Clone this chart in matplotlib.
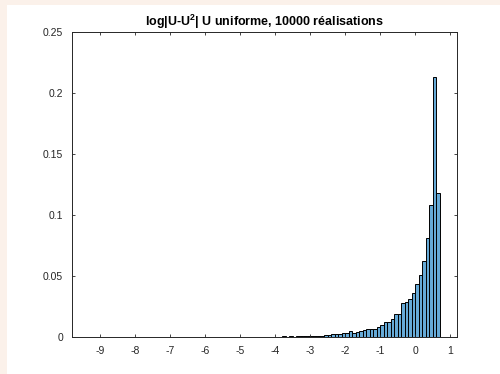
import numpy as np
import matplotlib
matplotlib.use("Agg")
import matplotlib.pyplot as plt
from matplotlib.patches import Rectangle

# histogramme (normalisation 'probability'), pas de 0.1
bin_start = -3.9
bin_width = 0.1
prob = [
    0.0002, 0.0004, 0.0003, 0.0004, 0.0002,
    0.0005, 0.0005, 0.0006, 0.0006, 0.0006,
    0.0007, 0.0009, 0.0010, 0.0014, 0.0016,
    0.0022, 0.0027, 0.0022, 0.0036, 0.0036,
    0.0049, 0.0036, 0.0044, 0.0049, 0.0060,
    0.0066, 0.0066, 0.0066, 0.0082, 0.0096,
    0.0126, 0.0126, 0.0150, 0.0191, 0.0191,
    0.0279, 0.0284, 0.0314, 0.0363, 0.0437,
    0.0511, 0.0623, 0.0811, 0.108, 0.213, 0.118,
]

xticks = [-9, -8, -7, -6, -5, -4, -3, -2, -1, 0, 1]
yticks = [0, 0.05, 0.1, 0.15, 0.2, 0.25]
ytick_labels = ["0", "0.05", "0.1", "0.15", "0.2", "0.25"]
title = r"log|U-U$^{\mathbf{2}}$| U uniforme, 10000 réalisations"

plt.rcParams['font.family'] = ['Liberation Sans', 'DejaVu Sans']
plt.rcParams['mathtext.fontset'] = 'custom'
plt.rcParams['mathtext.rm'] = 'Liberation Sans'
plt.rcParams['mathtext.bf'] = 'Liberation Sans:bold'

fig = plt.figure(figsize=(5.0, 3.74), dpi=100)
fig.patch.set_facecolor('#fbf1ea')
# zone blanche de la figure matlab (decalee dans la capture)
fig.patches.append(Rectangle((7 / 500, 0), 1, 1 - 5 / 374, transform=fig.transFigure,
                             facecolor='white', edgecolor='none', zorder=-10))

ax = fig.add_axes([0.144, 0.099, 0.77, 0.8155])
ax.set_facecolor('white')
lefts = [bin_start + i * bin_width for i in range(len(prob))]
ax.bar(lefts, prob, width=bin_width, align='edge',
       color=(0.4, 0.668, 0.845), edgecolor='black', linewidth=0.7)

ax.set_xlim(-9.8, 1.2)
ax.set_ylim(0, 0.25)
ax.set_xticks(xticks)
ax.set_xticklabels([str(t) for t in xticks])
ax.set_yticks(yticks)
ax.set_yticklabels(ytick_labels)

axcol = '#262626'
for s in ax.spines.values():
    s.set_color(axcol)
    s.set_linewidth(0.7)
ax.tick_params(direction='in', length=2.5, width=0.6, color=axcol,
               labelcolor=axcol, labelsize=7.5, top=True, right=True, pad=6.5)

ax.set_title(title, fontsize=9, fontweight='bold', color='black', pad=4)

fig.savefig("out.png", dpi=100, facecolor=fig.get_facecolor())
